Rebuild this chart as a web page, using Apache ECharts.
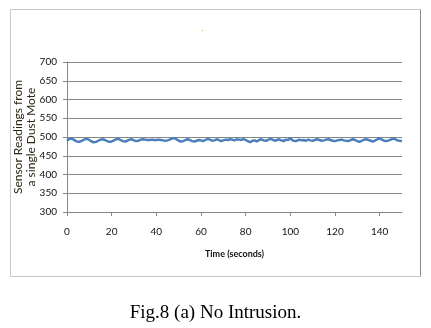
<!DOCTYPE html>
<html>
<head>
<meta charset="utf-8">
<script src="https://cdn.jsdelivr.net/npm/echarts@6/dist/echarts.min.js"></script>
<style>
html,body{margin:0;padding:0;background:#fff;}
#chart{width:431px;height:328px;}
</style>
</head>
<body>
<div id="chart"></div>
<script>
var yTicks = [300, 350, 400, 450, 500, 550, 600, 650, 700];
var xTicks = [0, 20, 40, 60, 80, 100, 120, 140];
var readings = [
  490, 495, 496, 493, 489, 487, 488, 491, 494, 495, 492,
  488, 486, 487, 490, 493, 494, 492, 489, 487, 488,
  491, 494, 495, 492, 489, 488, 490, 493, 494, 491,
  489, 490, 493, 494, 493, 492, 492, 493, 492, 492,
  493, 492, 491, 490, 491, 493, 496, 497, 494, 490,
  488, 489, 492, 494, 492, 489, 488, 490, 492, 491,
  489, 492, 495, 493, 490, 491, 494, 492, 489, 491,
  493, 492, 494, 493, 491, 494, 493, 492, 495, 492,
  489, 486, 490, 491, 488, 492, 494, 491, 490, 492,
  495, 493, 490, 492, 494, 491, 489, 493, 492, 497,
  491, 489, 490, 493, 491, 492, 490, 493, 491, 490,
  492, 494, 492, 490, 491, 493, 494, 492, 490, 489,
  491, 492, 493, 491, 490, 489, 492, 494, 492, 489,
  487, 490, 493, 494, 492, 490, 488, 491, 494, 496,
  493, 490, 489, 491, 493, 496, 494, 491, 490, 489
];
var timeSec = readings.map(function (v, i) { return i; });
var seriesData = readings.map(function (v, i) { return [timeSec[i], v]; });

var chart = echarts.init(document.getElementById('chart'));
chart.setOption({
  backgroundColor: '#fff',
  animation: false,
  grid: { left: 67, right: 29, top: 62, bottom: 116, containLabel: false, outerBoundsMode: 'none' },
  xAxis: {
    type: 'value',
    min: 0, max: 150, interval: 20,
    name: 'Time (seconds)',
    nameLocation: 'middle',
    nameGap: 38,
    nameMoveOverlap: false,
    nameTextStyle: { fontFamily: 'Lato', fontSize: 9, fontWeight: 'bold', color: '#111' },
    axisLine: { show: true, lineStyle: { color: '#868686', width: 1 } },
    axisTick: { show: true, length: 4, lineStyle: { color: '#868686' } },
    axisLabel: { showMaxLabel: false, fontFamily: 'Lato', fontSize: 10, color: '#111', margin: 15,
      formatter: function (v) { return xTicks.indexOf(v) >= 0 ? String(v) : ''; } },
    splitLine: { show: false }
  },
  yAxis: {
    type: 'value',
    min: 300, max: 700, interval: 50,
    name: 'Sensor Readings from\na single Dust Mote',
    nameLocation: 'middle',
    nameGap: 29,
    nameMoveOverlap: false,
    nameRotate: 90,
    nameTextStyle: { fontFamily: 'Lato', fontSize: 12, color: '#2a2410', lineHeight: 13 },
    axisLine: { show: true, lineStyle: { color: '#868686', width: 1 } },
    axisTick: { show: true, length: 4, lineStyle: { color: '#868686' } },
    axisLabel: { fontFamily: 'Lato', fontSize: 10, color: '#111', margin: 10,
      formatter: function (v) { return yTicks.indexOf(v) >= 0 ? String(v) : ''; } },
    splitLine: { show: true, lineStyle: { color: '#868686', width: 1 } }
  },
  series: [{
    type: 'line',
    data: seriesData,
    showSymbol: false,
    smooth: false,
    lineStyle: { color: '#4a7ebb', width: 2.5 },
    itemStyle: { color: '#4a7ebb' }
  }],
  graphic: [
    { type: 'rect', shape: { x: 10.5, y: 9.5, width: 410, height: 267 },
      style: { fill: 'none', stroke: '#c8c8c8', lineWidth: 1 }, z: -1 },
    { type: 'line', shape: { x1: 420.5, y1: 9.5, x2: 420.5, y2: 276.5 },
      style: { stroke: '#8a8a8a', lineWidth: 1 } },
    { type: 'rect', shape: { x: 202, y: 30, width: 1, height: 1 },
      style: { fill: '#f0a030' } },
    { type: 'text', left: 'center', top: 304,
      style: { text: 'Fig.8 (a) No Intrusion.', fontFamily: 'Liberation Serif', fontSize: 19, fill: '#000' } }
  ]
});
</script>
</body>
</html>
